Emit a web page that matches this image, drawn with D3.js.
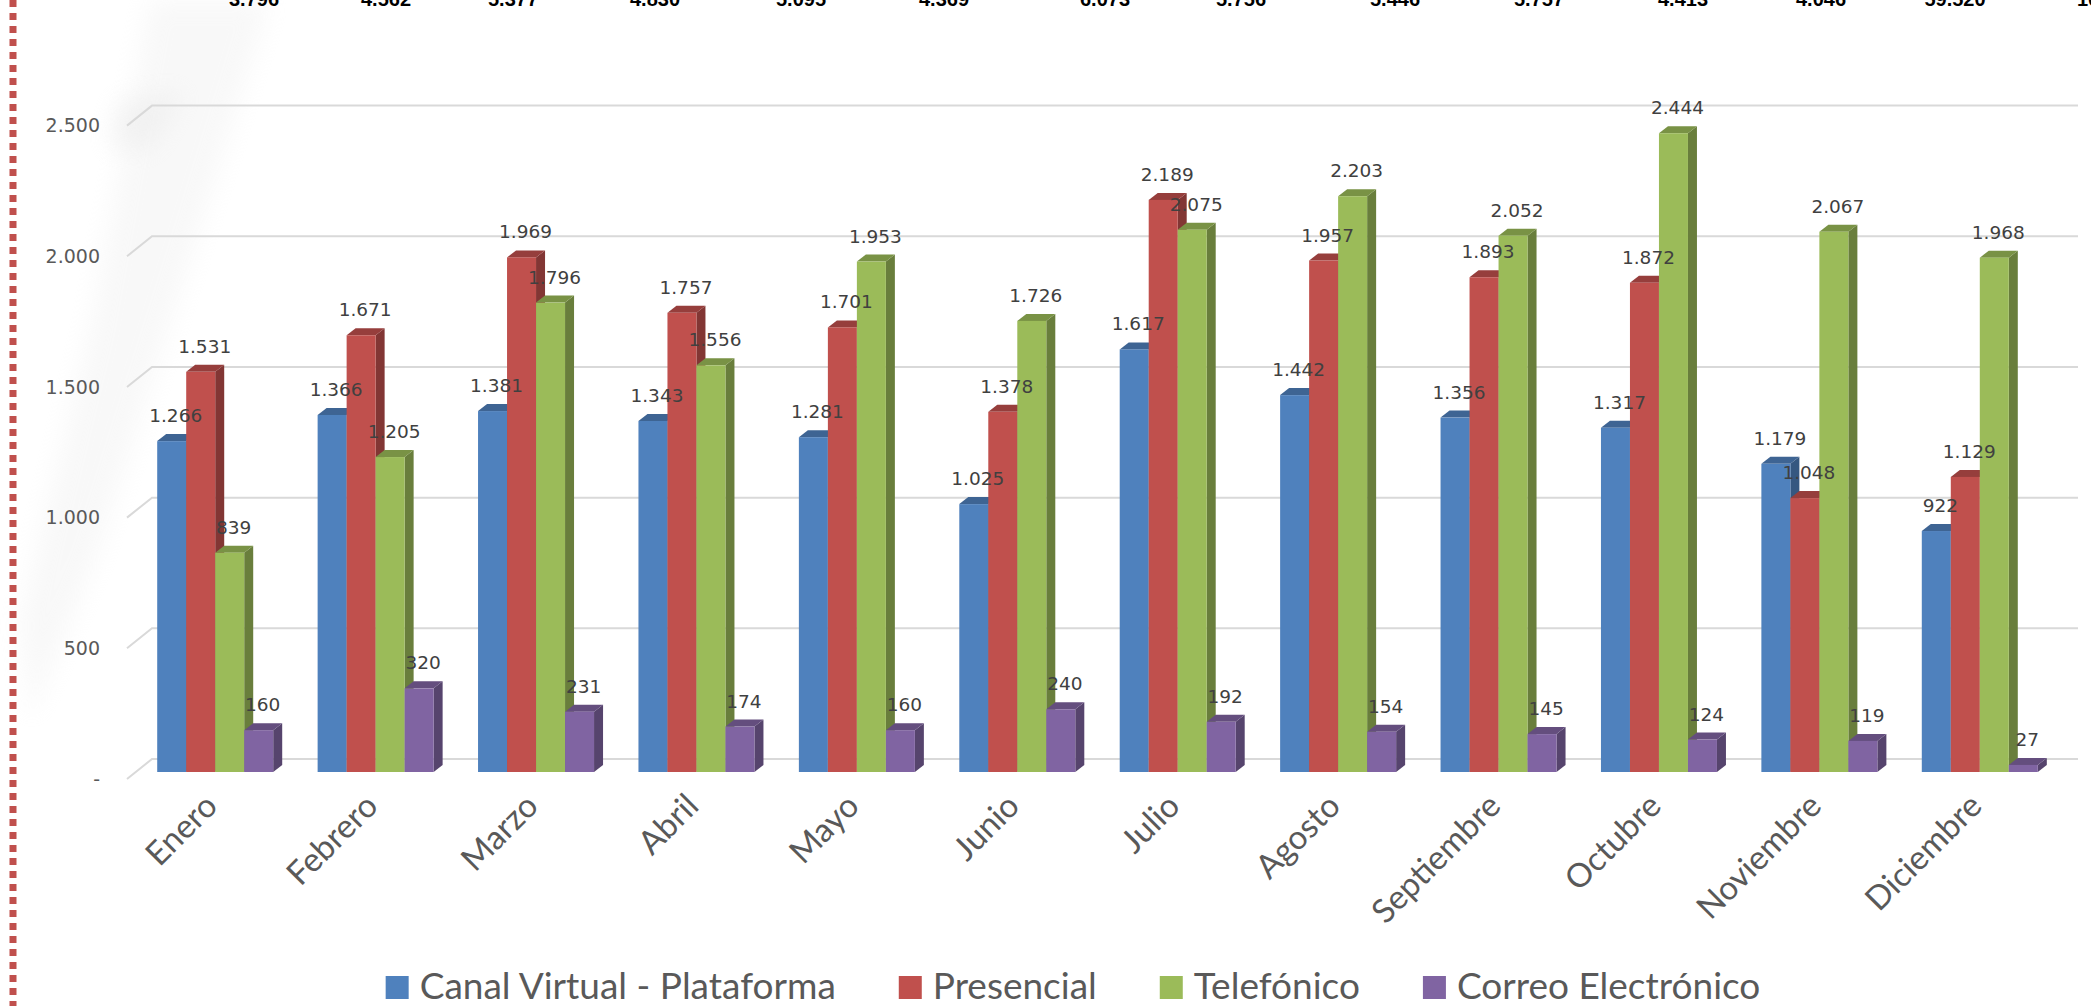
<!DOCTYPE html>
<html>
<head>
<meta charset="utf-8">
<script src="https://cdn.jsdelivr.net/npm/d3@7"></script>
<style>
  body { margin: 0; background: #fff; }
  svg { display: block; }
</style>
</head>
<body>
<div id="chart"></div>
<script>
// data
const months = ["Enero", "Febrero", "Marzo", "Abril", "Mayo", "Junio", "Julio", "Agosto", "Septiembre", "Octubre", "Noviembre", "Diciembre"];
const seriesNames = ["Canal Virtual - Plataforma", "Presencial", "Telefónico", "Correo Electrónico"];
const canalVirtual = [1266, 1366, 1381, 1343, 1281, 1025, 1617, 1442, 1356, 1317, 1179, 922];
const presencial = [1531, 1671, 1969, 1757, 1701, 1378, 2189, 1957, 1893, 1872, 1048, 1129];
const telefonico = [839, 1205, 1796, 1556, 1953, 1726, 2075, 2203, 2052, 2444, 2067, 1968];
const correo = [160, 320, 231, 174, 160, 240, 192, 154, 145, 124, 119, 27];
const yTicks = [0, 500, 1000, 1500, 2000, 2500];
const yTickLabels = ["-", "500", "1.000", "1.500", "2.000", "2.500"];
// row of totals from the table above the chart (cut off at the top)
const topRow = ["3.796", "4.562", "5.377", "4.830", "5.095", "4.369", "6.073", "5.756", "5.446", "5.757", "4.413", "4.046", "59.520"];
const topRowCenters = [254, 386, 513, 655, 801, 944, 1105, 1241, 1395, 1539, 1683, 1821, 1955];

const colors = ["#4f81bd", "#c0504d", "#9bbb59", "#8064a2"];
const values = [canalVirtual, presencial, telefonico, correo];

const W = 2091, H = 1006;
const svg = d3.select("#chart").append("svg")
    .attr("width", W)
    .attr("height", H);

// faint watermark + dashed margin line
const defs = svg.append("defs");
defs.append("filter").attr("id", "blur8")
    .attr("x", "-50%").attr("y", "-50%").attr("width", "200%").attr("height", "200%")
    .append("feGaussianBlur").attr("stdDeviation", 12);
defs.append("filter").attr("id", "blur2")
    .attr("x", "-200%").attr("y", "-10%").attr("width", "500%").attr("height", "120%")
    .append("feGaussianBlur").attr("stdDeviation", 2.5);

svg.append("path")
    .attr("d", "M150,0 L270,0 L190,260 L95,560 L30,720 L20,620 L90,330 Z")
    .attr("fill", "#ececec")
    .attr("opacity", 0.35)
    .attr("filter", "url(#blur8)");
svg.append("path")
    .attr("d", "M118,100 L185,92 L150,150 L108,148 Z")
    .attr("fill", "#e6e6e6")
    .attr("opacity", 0.4)
    .attr("filter", "url(#blur8)");

svg.append("line")
    .attr("x1", 13).attr("x2", 13).attr("y1", 0).attr("y2", H)
    .attr("stroke", "#9a9a9a").attr("stroke-width", 10)
    .attr("opacity", 0.5)
    .attr("filter", "url(#blur2)");
svg.append("line")
    .attr("x1", 13).attr("x2", 13).attr("y1", 0).attr("y2", H)
    .attr("stroke", "#c0504d").attr("stroke-width", 7)
    .attr("stroke-dasharray", "7,6");

// top row text (only its bottom part shows)
svg.append("g").selectAll("text")
    .data(topRow)
    .join("text")
    .attr("x", (d, i) => topRowCenters[i])
    .attr("y", 6)
    .attr("text-anchor", "middle")
    .style("font-family", "'Liberation Sans', Arial, sans-serif")
    .style("font-weight", "bold")
    .style("font-size", "20px")
    .attr("fill", "#000")
    .text(d => d);
svg.append("text")
    .attr("x", 2077).attr("y", 6)
    .style("font-family", "'Liberation Sans', Arial, sans-serif")
    .style("font-weight", "bold")
    .style("font-size", "20px")
    .text("100%");

// scales
const x = d3.scaleBand().domain(months).range([135, 2060]);
const y = d3.scaleLinear().domain([0, 2500]).range([772, 772 - 653.4]);
const depthX = 25, depthY = 20;     // full floor depth
const backShift = 13;               // bar front plane -> back wall
const barDx = 9, barDy = 7;         // bar depth
const barW = 29;

// gridlines on the back wall with the floor diagonal
const grid = svg.append("g");
yTicks.forEach(v => {
    const yb = y(v) - backShift;
    grid.append("path")
        .attr("d", d3.line()([[127, yb + depthY], [127 + depthX, yb], [2078, yb]]))
        .attr("fill", "none")
        .attr("stroke", "#d9d9d9")
        .attr("stroke-width", 2);
});

// y axis labels
const yAxis = svg.append("g")
    .attr("transform", "translate(100," + (-backShift + depthY) + ")")
    .call(d3.axisLeft(y).tickValues(yTicks).tickSize(0).tickPadding(0)
        .tickFormat((d, i) => yTickLabels[i]));
yAxis.select(".domain").remove();
yAxis.selectAll("text")
    .style("font-family", "'DejaVu Sans', Verdana, sans-serif")
    .style("font-size", "19px")
    .attr("fill", "#595959");

// x axis labels
const xAxis = svg.append("g")
    .attr("transform", "translate(0,772)")
    .call(d3.axisBottom(x).tickSize(0));
xAxis.select(".domain").remove();
xAxis.selectAll("text")
    .attr("x", 0).attr("y", 0).attr("dy", 0)
    .attr("text-anchor", "end")
    .attr("transform", "translate(4,36) rotate(-45)")
    .style("font-family", "Lato, 'Open Sans', sans-serif")
    .style("font-size", "33px")
    .attr("fill", "#595959");

// bars (3D style)
const bars = svg.append("g");
const labels = svg.append("g");
months.forEach((m, mi) => {
    const x0 = x(m) + (x.bandwidth() - barW * 4) / 2;
    values.forEach((arr, si) => {
        const v = arr[mi];
        const bx = x0 + si * barW;
        const yt = y(v), yb = y(0);
        const c = d3.color(colors[si]);
        bars.append("path")
            .attr("d", d3.line()([[bx + barW, yt], [bx + barW + barDx, yt - barDy], [bx + barW + barDx, yb - barDy], [bx + barW, yb]]) + "Z")
            .attr("fill", c.darker(1.1));
        bars.append("path")
            .attr("d", d3.line()([[bx, yt], [bx + barW, yt], [bx + barW + barDx, yt - barDy], [bx + barDx, yt - barDy]]) + "Z")
            .attr("fill", c.darker(0.7));
        bars.append("rect")
            .attr("x", bx).attr("y", yt)
            .attr("width", barW).attr("height", yb - yt)
            .attr("fill", colors[si]);
        labels.append("text")
            .attr("x", bx + barW / 2 + 4)
            .attr("y", yt - 19)
            .attr("text-anchor", "middle")
            .style("font-family", "'DejaVu Sans', Verdana, sans-serif")
            .style("font-size", "18.5px")
            .attr("fill", "#404040")
            .text(d3.format(",")(v).replace(/,/g, "."));
    });
});

// legend
const legend = svg.append("g");
let lx = 0;
seriesNames.forEach((name, i) => {
    const g = legend.append("g");
    g.append("rect")
        .attr("x", 0).attr("y", -23)
        .attr("width", 23).attr("height", 23)
        .attr("fill", colors[i]);
    const t = g.append("text")
        .attr("x", 34).attr("y", 0)
        .style("font-family", "Lato, 'Open Sans', sans-serif")
        .style("font-size", "37px")
        .attr("fill", "#595959")
        .text(name);
    g.attr("transform", "translate(" + lx + ",0)");
    lx += 34 + t.node().getComputedTextLength() + 63;
});
lx -= 63;
legend.attr("transform", "translate(" + (1073 - lx / 2) + ",999)");
</script>
</body>
</html>
